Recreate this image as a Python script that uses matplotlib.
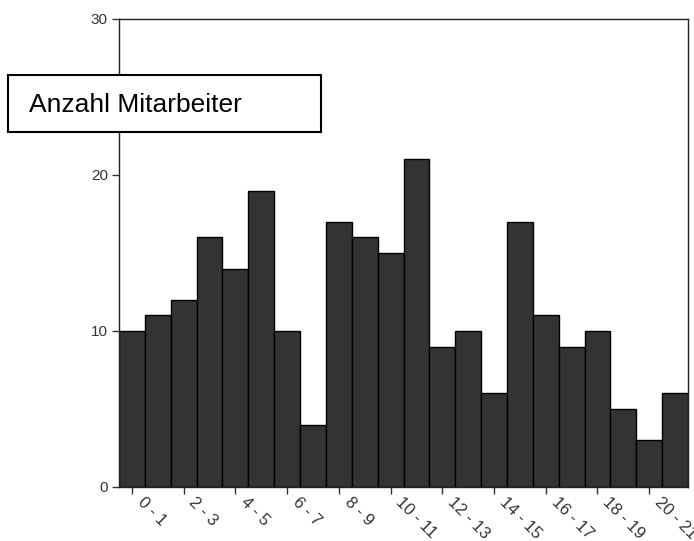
import numpy as np
import matplotlib.pyplot as plt
from matplotlib.patches import Rectangle
from matplotlib.transforms import ScaledTranslation

plt.rcParams['font.family'] = ['Liberation Sans', 'DejaVu Sans']

# Altersklassen (Jahre) und Anzahl Mitarbeiter
klassen = [f"{i} - {i + 1}" for i in range(22)]
anzahl = [10, 11, 12, 16, 14, 19, 10, 4, 17, 16, 15, 21, 9, 10, 6, 17, 11, 9, 10, 5, 3, 6]
y_ticks = [0, 10, 20, 30]

fig = plt.figure(figsize=(6.94, 5.41), dpi=100)
ax = fig.add_axes([119 / 694, 1 - 487 / 541, (688 - 119) / 694, (487 - 19) / 541])

x = np.arange(len(anzahl))
ax.bar(x, anzahl, width=1.0, color="#333333", edgecolor="black", linewidth=1.0)

ax.set_xlim(-0.5, len(anzahl) - 0.5)
ax.set_ylim(0, 30)
ax.set_yticks(y_ticks)
ax.set_yticklabels([str(t) for t in y_ticks], fontsize=11, color="#333333")

ax.set_xticks(x[::2])
ax.set_xticklabels(klassen[::2], rotation=-45, ha="left", va="center",
                   rotation_mode="anchor", fontsize=12, color="#333333")
ax.tick_params(axis="both", direction="out", length=5, width=1, color="#333333")
ax.tick_params(axis="x", pad=4)
ax.tick_params(axis="y", pad=3)

# Beschriftungen etwas nach rechts schieben
shift = ScaledTranslation(8 / 100, 0, fig.dpi_scale_trans)
for lbl in ax.get_xticklabels():
    lbl.set_transform(lbl.get_transform() + shift)

for s in ax.spines.values():
    s.set_linewidth(1.0)
    s.set_color("#222222")

# Legende als Kasten
fig.patches.append(Rectangle((8 / 694, 1 - 132 / 541), (321 - 8) / 694, (132 - 75) / 541,
                             transform=fig.transFigure, facecolor="white",
                             edgecolor="black", linewidth=1.5, zorder=5))
fig.text(29 / 694, 1 - 105 / 541, "Anzahl Mitarbeiter", fontsize=19,
         va="center", ha="left", zorder=6)

fig.savefig("out.png", dpi=100)
